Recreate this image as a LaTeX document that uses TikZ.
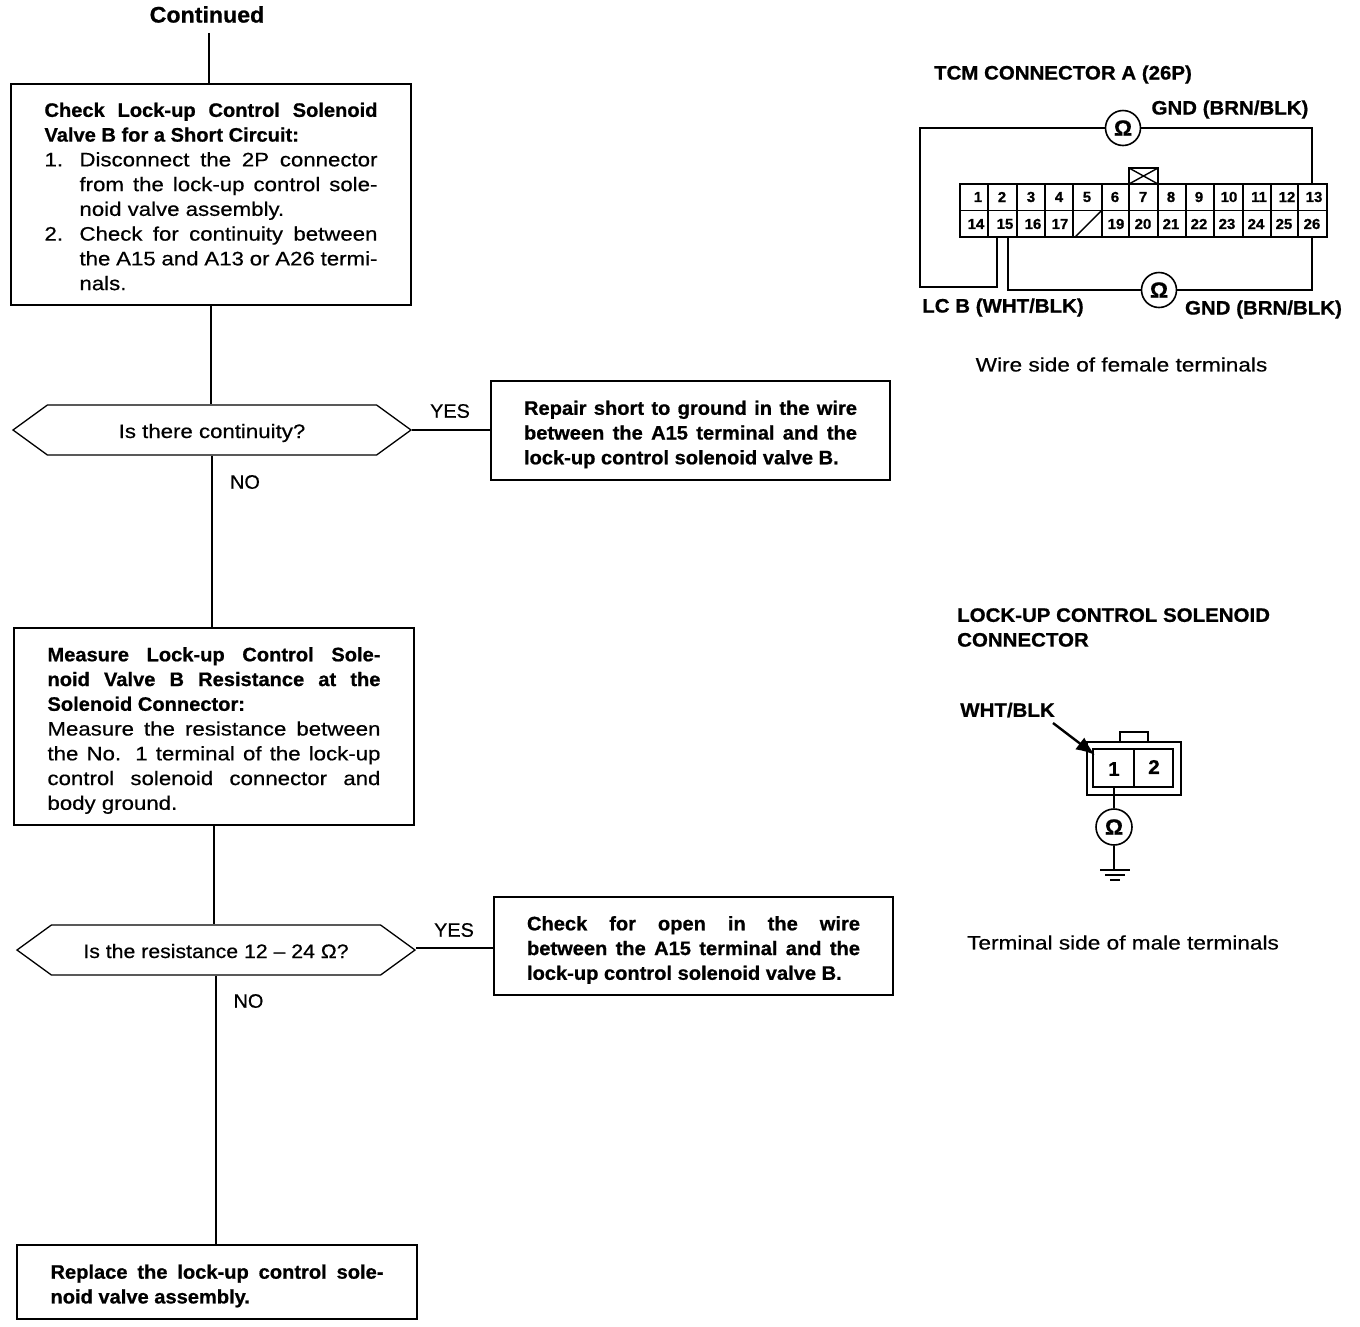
\documentclass[tikz,border=0pt]{standalone}
\usepackage{fontspec}
\setmainfont{Liberation Sans}
\newfontfamily\medf[FakeStretch=1.14,FakeBold=0.5]{Liberation Sans}
\newfontfamily\tightf[FakeStretch=1.09,FakeBold=0.5]{Liberation Sans}
\newfontfamily\wideF[FakeStretch=1.16,FakeBold=0.5]{Liberation Sans}
\newfontfamily\capf[FakeStretch=1.02,FakeBold=0.5]{Liberation Sans}
\newfontfamily\boldf[FakeStretch=1.03,FakeBold=0.8]{Liberation Sans Bold}
\newfontfamily\headf[FakeStretch=1.05,FakeBold=0.8]{Liberation Sans Bold}
\usetikzlibrary{shapes.symbols,arrows.meta}
\newcommand\bodyfont{\fontsize{19.5}{24.75}\selectfont}
\newcommand\fullln[1]{\hbox to 333pt{#1}}
\newcommand\leftln[1]{\hbox to 333pt{#1\hfil}}
\newcommand\numln[2]{\hbox to 333pt{\hbox to 35pt{#1\hfil}#2}}
\newcommand\numlft[1]{\hbox to 333pt{\hbox to 35pt{\hfil}#1\hfil}}
\newcommand\numfull[1]{\hbox to 333pt{\hbox to 35pt{\hfil}#1}}
\newcommand\blines[2][8]{\vbox{\kern#1pt\baselineskip=24.75pt\lineskiplimit=-100pt #2}}
\newcommand\asktext[1]{\raisebox{-8pt}[0pt][0pt]{#1}}
\tikzset{
  wire/.style={draw=black,line width=1.4pt},
  thick wire/.style={draw=black,line width=2pt},
  stepbox/.style={draw=black,line width=1.6pt,rectangle,inner sep=0pt,font=\bodyfont\medf,fill=white},
  ask/.style={draw=black,line width=1.3pt,signal,signal to=east and west,signal pointer angle=72,minimum width=398pt,minimum height=50pt,inner sep=0pt,font=\bodyfont\medf},
  plain/.style={inner sep=0pt,font=\bodyfont\wideF},
  capslabel/.style={inner sep=0pt,font=\bodyfont\capf},
  head/.style={inner sep=0pt,font=\bodyfont\headf},
  meter/.style={circle,draw=black,line width=1.6pt,minimum size=35pt,inner sep=0pt,fill=white,font=\boldf\fontsize{22}{22}\selectfont},
  pin/.style={inner sep=0pt,font=\boldf\fontsize{14.5}{14.5}\selectfont},
}
\begin{document}
\begin{tikzpicture}[x=1pt,y=-1pt]
\useasboundingbox (0,0) rectangle (1360,1326);
\fill[white] (0,0) rectangle (1360,1326);
% left column
\node[inner sep=0pt,font=\boldf\fontsize{22.5}{22.5}\selectfont] (cont) at (207,14.5) {Continued};
\node[stepbox,minimum width=400pt,minimum height=221pt] (b1) at (211,194.5) {\blines[4]{%
  \fullln{\boldf Check Lock-up Control Solenoid}
  \leftln{\boldf Valve B for a Short Circuit:}
  \numln{1.}{Disconnect the 2P connector}
  \numfull{from the lock-up control sole-}
  \numlft{noid valve assembly.}
  \numln{2.}{Check for continuity between}
  \numfull{the A15 and A13 or A26 termi-}
  \numlft{nals.}}};
\node[ask] (d1) at (212,430) {\asktext{Is there continuity?}};
\node[stepbox,minimum width=399pt,minimum height=99pt] (r1) at (690.5,430.5) {\blines{%
  \fullln{\boldf Repair short to ground in the wire}
  \fullln{\boldf between the A15 terminal and the}
  \leftln{\boldf lock-up control solenoid valve B.}}};
\node[stepbox,minimum width=400pt,minimum height=197pt] (b2) at (214,726.5) {\blines{%
  \fullln{\boldf Measure Lock-up Control Sole-}
  \fullln{\boldf noid Valve B Resistance at the}
  \leftln{\boldf Solenoid Connector:}
  \fullln{Measure the resistance between}
  \fullln{the No. 1 terminal of the lock-up}
  \fullln{control solenoid connector and}
  \leftln{body ground.}}};
\node[ask] (d2) at (216,950) {\asktext{\tightf Is the resistance 12 – 24 Ω?}};
\node[stepbox,minimum width=399pt,minimum height=98pt] (r2) at (693.5,946) {\blines{%
  \fullln{\boldf Check for open in the wire}
  \fullln{\boldf between the A15 terminal and the}
  \leftln{\boldf lock-up control solenoid valve B.}}};
\node[stepbox,minimum width=400pt,minimum height=74pt] (b3) at (217,1282) {\blines{%
  \fullln{\boldf Replace the lock-up control sole-}
  \leftln{\boldf noid valve assembly.}}};
% flow connectors
\draw[wire] ([xshift=2pt,yshift=-10pt]cont.south) -- ([xshift=2pt]cont.south |- b1.north);
\draw[wire] (b1.south) -- (b1.south |- d1.north);
\draw[wire] (d1.south) -- (d1.south |- b2.north);
\draw[wire] (b2.south) -- (b2.south |- d2.north);
\draw[wire] (d2.south) -- (d2.south |- b3.north);
\draw[wire] (d1.east) -- (d1.east -| r1.west);
\draw[wire] ([yshift=2pt]d2.east) -- ([yshift=2pt]d2.east -| r2.west);
\node[capslabel] (y1) at (450,411) {YES};
\node[capslabel] (n1) at (245,482) {NO};
\node[capslabel] (y2) at (454,930) {YES};
\node[capslabel] (n2) at (248.5,1001) {NO};
% TCM connector
\node[head] (tt) at (1063,74.5) {TCM CONNECTOR A (26P)};
\draw[thick wire] (960,184) rectangle (1327,237);
\draw[wire] (960,210.5) -- (1327,210.5);
\foreach \x in {988,1017,1045,1073,1102,1129,1158,1186,1214,1243,1271,1298}{
  \draw[wire] (\x,184) -- (\x,237);
}
\draw[wire] (1075,237) -- (1101,211);
\draw[thick wire] (1129,184) -- (1129,168) -- (1158,168) -- (1158,184);
\draw[wire] (1129,168) -- (1158,184) (1158,168) -- (1129,184);
\foreach \n/\x in {1/978,2/1002,3/1031,4/1059,5/1087,6/1115,7/1143,8/1171,9/1199,10/1229,11/1259,12/1287,13/1314}{
  \node[pin] (p\n) at (\x,197) {\n};
}
\foreach \n/\x in {14/976,15/1005,16/1033,17/1060,19/1116,20/1143,21/1171,22/1199,23/1227,24/1256,25/1284,26/1312}{
  \node[pin] (p\n) at (\x,224) {\n};
}
\node[meter] (m1) at (1123,128) {Ω};
\node[meter] (m2) at (1159,290) {Ω};
\draw[thick wire] (m1.west) -- (920,128) -- (920,287) -- (997,287) -- (997,237);
\draw[thick wire] (m1.east) -- (1312,128) -- (1312,184);
\draw[thick wire] (m2.west) -- (1008,290) -- (1008,237);
\draw[thick wire] (m2.east) -- (1312,290) -- (1312,237);
\node[head] (g1) at (1230,109.5) {GND (BRN/BLK)};
\node[head] (lc) at (1003,307.5) {LC B (WHT/BLK)};
\node[head] (g2) at (1263.5,309.5) {GND (BRN/BLK)};
\node[plain] (ws) at (1121.5,364.5) {Wire side of female terminals};
% solenoid connector
\node[head,align=left,anchor=west] (st) at (957,627.5) {\blines[0]{\hbox{LOCK-UP CONTROL SOLENOID}\hbox{CONNECTOR}}};
\node[head] (wb) at (1007.5,710) {WHT/BLK};
\draw[wire] (1087,742) rectangle (1181,795);
\draw[wire] (1120,742) -- (1120,732) -- (1148,732) -- (1148,742);
\draw[thick wire] (1093,749) rectangle (1173,787);
\draw[wire] (1134,749) -- (1134,787);
\node[inner sep=0pt,font=\boldf\fontsize{20}{20}\selectfont] (s1) at (1114,769) {1};
\node[inner sep=0pt,font=\boldf\fontsize{20}{20}\selectfont] (s2) at (1154,767) {2};
\node[meter,minimum size=36pt] (m3) at (1114,827) {Ω};
\coordinate (gnd) at (1114,870);
\coordinate (pinone) at (1114,787);
\coordinate (arrowfrom) at (1053,723);
\coordinate (arrowto) at (1095,755);
\draw[wire] (pinone) -- (m3.north);
\draw[wire] (m3.south) -- (gnd);
\draw[wire] (1100,870) -- (1130,870) (1105,875) -- (1125,875) (1110,880) -- (1120,880);
\draw[line width=2.4pt,-{Latex[length=19pt,width=15pt]}] (arrowfrom) -- (arrowto);
\node[plain] (ts) at (1123,942.5) {Terminal side of male terminals};
\end{tikzpicture}
\end{document}
